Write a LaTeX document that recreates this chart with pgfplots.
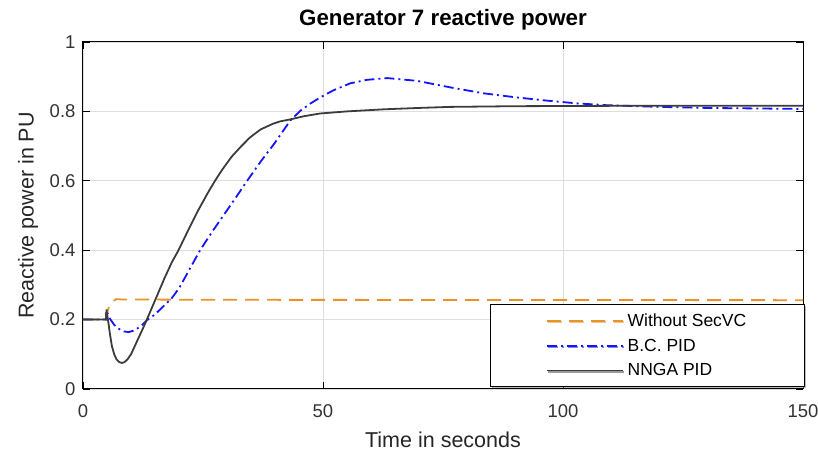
\documentclass[border=0pt]{standalone}
\usepackage{pgfplots}
\pgfplotsset{compat=1.18}
\usepackage{fontspec}
\setmainfont{Liberation Sans}
\usetikzlibrary{shadows}
\definecolor{morange}{RGB}{232,146,42}
\definecolor{mblue}{RGB}{20,20,255}
\definecolor{mblack}{RGB}{60,60,60}
\definecolor{mgrid}{RGB}{222,222,222}
\begin{document}
\begin{tikzpicture}
\path[use as bounding box] (-83pt,-65pt) rectangle (735pt,389pt);
\begin{axis}[
  scale only axis,
  width=720pt, height=347pt,
  xmin=0, xmax=150, ymin=0, ymax=1,
  xtick={0,50,100,150}, ytick={0,0.2,0.4,0.6,0.8,1},
  yticklabels={0,0.2,0.4,0.6,0.8,1},
  tick align=inside, major tick length=7pt,
  xtick pos=both, ytick pos=both,
  grid=major, major grid style={mgrid, line width=0.8pt},
  axis line style={black, line width=1pt},
  tick style={black, line width=0.8pt},
  /pgf/number format/assume math mode=true,
  tick label style={font=\fontsize{18.5}{22}\selectfont, text=black!80},
  xticklabel style={anchor=base, yshift=-29pt},
  yticklabel style={xshift=-4pt},
  title={Generator 7 reactive power},
  title style={font=\fontsize{22.3}{26}\bfseries\selectfont, at={(axis description cs:0.5,1.0297)}, anchor=base},
  xlabel={Time in seconds},
  xlabel style={font=\fontsize{21.5}{25}\selectfont, at={(axis description cs:0.5,-0.147)}, anchor=center, text=black!85},
  ylabel={Reactive power in PU},
  ylabel style={font=\fontsize{21.5}{25}\selectfont, at={(axis description cs:-0.0764,0.5)}, anchor=center, text=black!85},
  legend style={at={(axis description cs:1.003,0.005)}, anchor=south east, draw=black, line width=1pt, fill=white,
    font=\fontsize{17.5}{21}\selectfont, inner xsep=0pt, inner ysep=7.5pt, row sep=7pt,
    drop shadow={shadow xshift=1.5pt, shadow yshift=-1.5pt, fill=black!50}},
  legend cell align=left,
  legend image code/.code={\node[inner sep=0pt, minimum size=0pt] at (0pt,0pt) {}; \draw[#1] (57pt,0pt) -- (133pt,0pt); \node[inner sep=0pt, minimum size=0pt] at (135pt,0pt) {};},
]
\addplot[morange, line width=1.8pt, dash pattern=on 14pt off 8pt] coordinates {
(0,0.2)(4.8,0.2)(5,0.22)(5.5,0.24)(6,0.25)(6.9,0.259)(8,0.258)(30,0.257)(150,0.256)};
\addlegendentry{\makebox[175pt][l]{Without SecVC}}
\addplot[mblue, line width=1.8pt, dash pattern=on 10pt off 4pt on 2pt off 4pt] coordinates {
(0,0.2)(4.8,0.2)(4.9,0.226)(5.5,0.205)(6.5,0.185)(7.4,0.174)(8.5,0.166)(9.5,0.164)(10.5,0.168)(11.9,0.179)(13.3,0.198)(15,0.215)(16.5,0.235)(18.5,0.262)(20,0.29)(22,0.34)(24.4,0.4)(27,0.455)(29.5,0.505)(32,0.555)(34.2,0.6)(37,0.655)(40,0.71)(43.2,0.774)(45.3,0.802)(47.3,0.822)(49.4,0.84)(52.2,0.861)(55.7,0.881)(59.2,0.891)(63.4,0.896)(69.6,0.888)(76.6,0.869)(83.5,0.852)(90.5,0.84)(96.7,0.831)(103,0.823)(109,0.818)(120,0.813)(130,0.81)(150,0.807)};
\addlegendentry{B.C. PID}
\addplot[mblack, line width=1.8pt] coordinates {
(0,0.2)(4.8,0.2)(4.9,0.229)(5.2,0.2)(5.6,0.16)(6,0.125)(6.5,0.1)(7,0.085)(7.5,0.078)(8.1,0.075)(8.7,0.078)(9.3,0.086)(10,0.1)(10.5,0.115)(11.5,0.145)(12.6,0.178)(13.3,0.2)(15,0.255)(17,0.32)(18.5,0.365)(19.9,0.4)(22,0.46)(24,0.515)(26,0.565)(27.5,0.6)(29,0.632)(31,0.67)(33,0.7)(34.8,0.725)(37,0.748)(39.5,0.764)(41,0.771)(43.2,0.777)(46,0.786)(49.4,0.794)(55,0.8)(62.7,0.806)(70,0.81)(76.6,0.813)(90,0.815)(110,0.816)(150,0.816)};
\addlegendentry{NNGA PID}
\end{axis}
\end{tikzpicture}
\end{document}
